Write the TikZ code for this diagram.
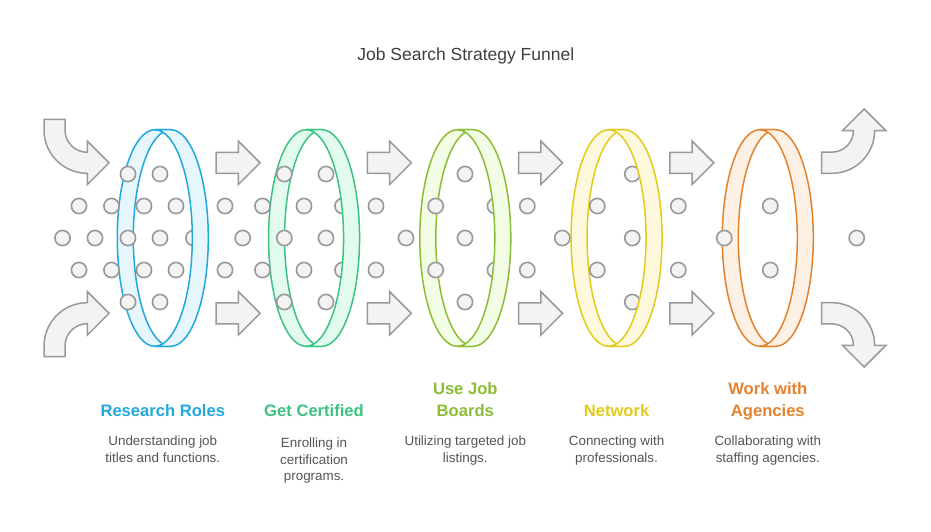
\documentclass[tikz,border=0pt]{standalone}
\usepackage{fontspec}
\setmainfont{Liberation Sans}
\definecolor{dotfill}{HTML}{F3F3F3}
\definecolor{dotline}{HTML}{999999}
\definecolor{titlec}{HTML}{3F3F3F}
\definecolor{descc}{HTML}{555555}
\definecolor{c1s}{HTML}{22A8DD}\definecolor{c1f}{HTML}{E6F6FD}
\definecolor{c2s}{HTML}{3CC380}\definecolor{c2f}{HTML}{E3FAEF}
\definecolor{c3s}{HTML}{8CBE35}\definecolor{c3f}{HTML}{F3FCE4}
\definecolor{c4s}{HTML}{E2CB1A}\definecolor{c4f}{HTML}{FEF9DC}
\definecolor{c5s}{HTML}{E5822E}\definecolor{c5f}{HTML}{FDF0E4}
\tikzset{
  dotc/.style={fill=dotfill, draw=dotline, line width=1.6pt},
  blockarrow/.style={fill=dotfill, draw=dotline, line width=1.5pt, line join=miter},
  band/.style={line width=1.5pt},
  ttl/.style={font=\fontsize{17.5}{20}\selectfont, text=titlec, anchor=base},
  head/.style={font=\bfseries\fontsize{16.6}{22.3}\selectfont, align=center, anchor=base},
  desc/.style={font=\fontsize{13.4}{16.5}\selectfont, text=descc, align=center, anchor=base},
}
\begin{document}
\begin{tikzpicture}[x=1pt,y=-1pt]
\useasboundingbox (0,0) rectangle (931,531);
\fill[white] (0,0) rectangle (931,531);

% title
\node[ttl] (title) at (465.8,60) {Job Search Strategy Funnel};

% back bands of rings
\foreach \c/\i in {162.8/1,314.05/2,465.3/3,616.55/4,767.8/5}{
  \pgfmathsetmacro{\Lc}{\c-8}
  \pgfmathsetmacro{\Rc}{\c+8}
  \filldraw[band, draw=c\i s, fill=c\i f]
    (\Lc,129.7) arc[start angle=270,end angle=90,x radius=37.5,y radius=108.3]
    -- (\Rc,346.3) arc[start angle=90,end angle=270,x radius=37.5,y radius=108.3] -- cycle;
}

% dots
\foreach \x in {128,160,284.3,326,465,632.3}{
  \draw[dotc] (\x,174) circle[radius=7.6];
  \draw[dotc] (\x,302) circle[radius=7.6];
}
\foreach \x in {79,111.5,144,176,225,262.5,304,342.5,376,435.7,495,527.3,597.3,678.3,770.3}{
  \draw[dotc] (\x,206) circle[radius=7.6];
  \draw[dotc] (\x,270) circle[radius=7.6];
}
\foreach \x in {62.5,95,128,160,193.5,242.7,284.3,326,406,465,562.3,632.3,724.3,856.7}{
  \draw[dotc] (\x,238) circle[radius=7.6];
}

% front bands of rings
\foreach \c/\i in {162.8/1,314.05/2,465.3/3,616.55/4,767.8/5}{
  \pgfmathsetmacro{\Lc}{\c-8}
  \pgfmathsetmacro{\Rc}{\c+8}
  \filldraw[band, draw=c\i s, fill=c\i f]
    (\Lc,129.7) arc[start angle=-90,end angle=90,x radius=37.5,y radius=108.3]
    -- (\Rc,346.3) arc[start angle=90,end angle=-90,x radius=37.5,y radius=108.3] -- cycle;
}

% straight block arrows
\foreach \k in {0,1,2,3}{
  \foreach \cy in {162.8,313.3}{
    \pgfmathsetmacro{\s}{216+151.25*\k}
    \draw[blockarrow] (\s,\cy-10.5) -- (\s+22.3,\cy-10.5) -- (\s+22.3,\cy-21.8)
      -- (\s+44,\cy) -- (\s+22.3,\cy+21.8) -- (\s+22.3,\cy+10.5) -- (\s,\cy+10.5) -- cycle;
  }
}

% curved arrows, left
\draw[blockarrow] (44,119.3) -- (65,119.3) -- (65,130)
  arc[start angle=180,end angle=90,radius=22.3]
  -- (87.3,141) -- (109,162.8) -- (87.3,184.6) -- (87.3,173.3)
  arc[start angle=90,end angle=180,radius=43.3] -- cycle;
\draw[blockarrow] (44,356.7) -- (65,356.7) -- (65,346)
  arc[start angle=180,end angle=270,radius=22.3]
  -- (87.3,335.1) -- (109,313.3) -- (87.3,291.5) -- (87.3,302.7)
  arc[start angle=270,end angle=180,radius=43.3] -- cycle;

% curved arrows, right
\draw[blockarrow] (821.7,173.3) -- (832,173.3)
  arc[start angle=90,end angle=0,radius=42.6]
  -- (886,130.7) -- (864.2,109) -- (842.4,130.7) -- (853.4,130.7)
  arc[start angle=0,end angle=90,radius=21.4] -- (821.7,152.1) -- cycle;
\draw[blockarrow] (821.7,302.7) -- (832,302.7)
  arc[start angle=270,end angle=360,radius=42.6]
  -- (886,345.3) -- (864.2,367) -- (842.4,345.3) -- (853.4,345.3)
  arc[start angle=0,end angle=-90,radius=21.4] -- (821.7,323.9) -- cycle;

% headings (anchor = baseline of last line)
\node[head, text=c1s] (h1) at (162.8,416.5) {Research Roles};
\node[head, text=c2s] (h2) at (314.05,416.5) {Get Certified};
\node[head, text=c3s] (h3) at (465.3,416.5) {Use Job\\Boards};
\node[head, text=c4s] (h4) at (616.55,416.5) {Network};
\node[head, text=c5s] (h5) at (767.8,416.5) {Work with\\Agencies};

% descriptions (anchor = baseline of last line)
\node[desc] (d1) at (162.8,462) {Understanding job\\titles and functions.};
\node[desc] (d2) at (314.05,480.5) {Enrolling in\\certification\\programs.};
\node[desc] (d3) at (465.3,462) {Utilizing targeted job\\listings.};
\node[desc] (d4) at (616.55,462) {Connecting with\\professionals.};
\node[desc] (d5) at (767.8,462) {Collaborating with\\staffing agencies.};
\end{tikzpicture}
\end{document}
